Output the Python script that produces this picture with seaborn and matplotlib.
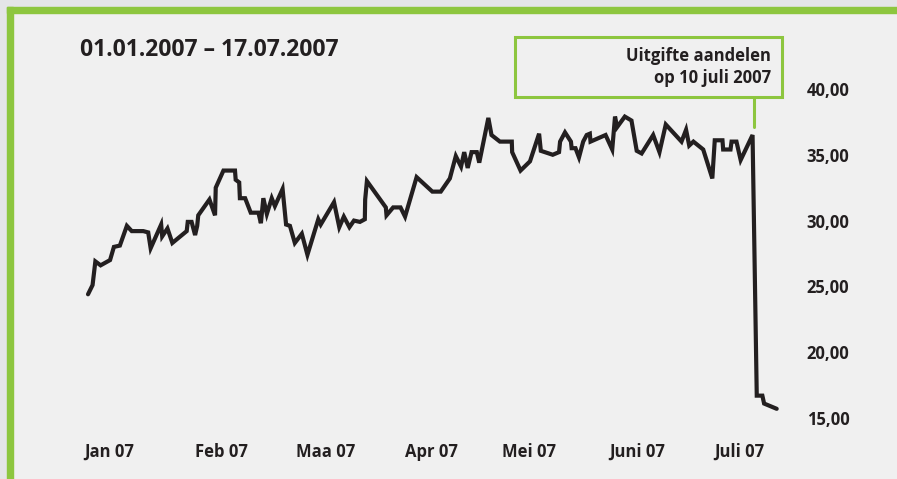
import matplotlib
matplotlib.use("Agg")
import matplotlib.pyplot as plt
import seaborn as sns
import pandas as pd
from matplotlib.patches import Rectangle
from matplotlib.lines import Line2D

# days since 1 Jan 2007 and share price (EUR)
days = [0.0, 1.3, 2.1, 3.6, 6.3, 7.4, 9.1, 11.1, 12.5, 15.8, 17.2, 17.9, 20.9, 21.2,
        22.7, 24.1, 28.2, 28.5, 29.6, 30.6, 31.2, 31.5, 34.7, 36.3, 36.5, 38.7, 42.0,
        42.2, 43.2, 43.4, 44.9, 46.5, 48.7, 49.4, 50.1, 51.1, 52.5, 53.4, 55.6, 56.6,
        57.7, 59.1, 61.1, 62.7, 65.8, 66.5, 70.3, 71.8, 73.1, 74.7, 76.0, 77.7, 79.1,
        79.2, 79.7, 85.1, 85.3, 87.2, 89.3, 90.6, 93.9, 98.4, 100.8, 103.4, 105.1,
        106.6, 107.5, 108.5, 109.6, 111.1, 111.8, 114.4, 115.3, 117.7, 121.1, 121.2,
        123.6, 126.3, 128.9, 129.4, 132.8, 134.6, 134.9, 136.3, 138.0, 138.2, 139.3,
        140.3, 141.5, 142.5, 143.4, 143.6, 147.9, 149.8, 150.6, 151.2, 153.4, 155.3,
        156.8, 158.2, 161.5, 163.3, 165.1, 169.6, 170.9, 171.8, 173.0, 175.8, 178.4,
        179.1, 181.3, 181.5, 183.6, 183.9, 185.3, 186.5, 189.9, 191.1, 192.7, 193.2,
        196.8]
prices = [24.4, 25.1, 26.9, 26.6, 27.0, 28.0, 28.1, 29.6, 29.2, 29.2, 29.1, 27.9, 29.7, 28.8,
          29.4, 28.3, 29.2, 29.9, 29.9, 28.9, 29.6, 30.4, 31.6, 30.4, 32.5, 33.8, 33.8,
          33.1, 32.9, 31.7, 31.7, 30.6, 30.6, 29.8, 31.7, 30.5, 31.7, 31.1, 32.4, 29.7,
          29.6, 28.3, 29.0, 27.4, 30.1, 29.7, 31.4, 29.5, 30.3, 29.5, 30.0, 29.9, 30.1,
          31.6, 33.0, 31.0, 30.4, 31.0, 31.0, 30.3, 33.3, 32.2, 32.2, 33.2, 34.9,
          34.1, 35.2, 34.0, 35.2, 35.2, 34.4, 37.8, 36.5, 36.0, 36.0, 35.2,
          33.8, 34.5, 36.6, 35.3, 35.0, 35.2, 36.0, 36.7, 36.0, 35.5, 35.5,
          34.8, 36.0, 36.5, 36.6, 36.0, 36.5, 35.4, 37.9, 37.1, 37.9, 37.6,
          35.3, 35.1, 36.5, 35.2, 37.3, 36.0, 36.9, 35.7, 36.0, 35.4, 33.2,
          36.1, 36.1, 35.4, 35.4, 36.0, 36.0, 34.6, 36.5, 16.7, 16.7, 16.1,
          15.7]

month_ticks = [6, 38, 68, 98, 126, 157, 186]
month_labels = ["Jan 07", "Feb 07", "Maa 07", "Apr 07", "Mei 07", "Juni 07", "Juli 07"]
price_ticks = [15, 20, 25, 30, 35, 40]
price_labels = ["15,00", "20,00", "25,00", "30,00", "35,00", "40,00"]

title = "01.01.2007 \u2013 17.07.2007"
note = "Uitgifte aandelen\nop 10 juli 2007"
issue_day = 190.3

BG = "#f0f0f0"
GREEN = "#8dc63f"
INK = "#231f20"

sns.set_theme(style="white")
plt.rcParams["font.family"] = ["Open Sans", "DejaVu Sans"]
plt.rcParams["font.weight"] = "bold"

W, H = 897, 479
fig = plt.figure(figsize=(W / 100, H / 100), dpi=100, facecolor=BG)


def fx(x):
    return x / W


def fy(y):
    return 1 - y / H


# frame: pale strip and green border on top and left
fig.patches.append(Rectangle((0, fy(7)), 1, 7 / H, transform=fig.transFigure,
                             color="#e4e5e7", zorder=0))
fig.patches.append(Rectangle((0, 0), fx(7), 1, transform=fig.transFigure,
                             color="#e4e5e7", zorder=0))
fig.patches.append(Rectangle((fx(7), fy(13)), 1, 6 / H, transform=fig.transFigure,
                             color=GREEN, zorder=1))
fig.patches.append(Rectangle((fx(7), 0), 6 / W, fy(7), transform=fig.transFigure,
                             color=GREEN, zorder=1))

ax = fig.add_axes([fx(80), fy(425), fx(710), 345 / H])
ax.set_facecolor(BG)

df = pd.DataFrame({"day": days, "price": prices})
sns.lineplot(data=df, x="day", y="price", ax=ax, color=INK, linewidth=3,
             sort=False, estimator=None, solid_joinstyle="miter")

ax.set_xlim(-2.29, 200.6)
ax.set_ylim(14.47, 40.68)
for s in ax.spines.values():
    s.set_visible(False)
ax.set_xlabel("")
ax.set_ylabel("")

ax.set_xticks(month_ticks)
ax.set_xticklabels(month_labels)
ax.yaxis.tick_right()
ax.set_yticks(price_ticks)
ax.set_yticklabels(price_labels, ha="left")
ax.tick_params(axis="both", length=0, labelsize=12, labelcolor=INK)
ax.tick_params(axis="y", pad=12)
ax.tick_params(axis="x", pad=13)
for lab in ax.get_xticklabels() + ax.get_yticklabels():
    lab.set_fontweight("bold")

fig.text(fx(80), fy(50), title, fontsize=16.5, fontweight="bold", color=INK,
         ha="left", va="center")

# annotation box with connector to the issue date
fig.patches.append(Rectangle((fx(515), fy(97)), fx(267), 60 / H, transform=fig.transFigure,
                             facecolor=BG, edgecolor=GREEN, linewidth=2.2, zorder=3))
fig.text(fx(771), fy(67), note, fontsize=12, fontweight="bold", color=INK,
         ha="right", va="center", linespacing=1.25, zorder=4)
ax.add_line(Line2D([issue_day, issue_day], [39.39, 37.11], color=GREEN, linewidth=2.2,
                   clip_on=False))

fig.savefig("out.png", dpi=100, facecolor=BG)
